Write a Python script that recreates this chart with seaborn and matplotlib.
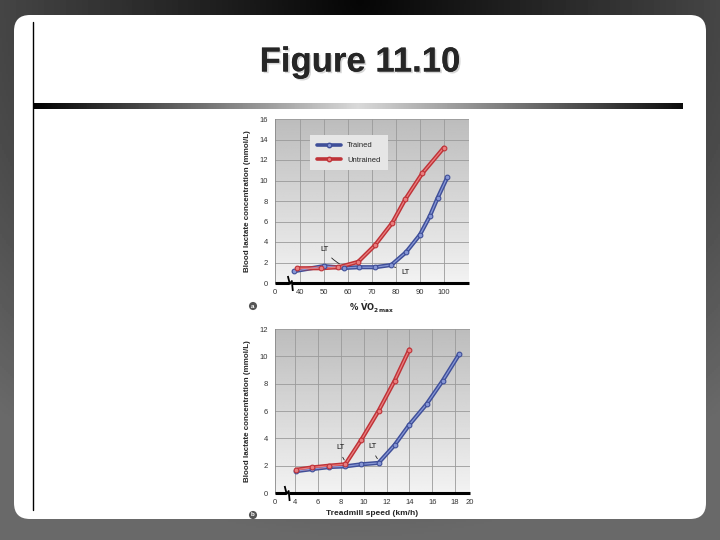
import numpy as np
import pandas as pd
import matplotlib
matplotlib.use("Agg")
import matplotlib.pyplot as plt
import matplotlib.patheffects as pe
from matplotlib.patches import FancyBboxPatch
from matplotlib.lines import Line2D
import seaborn as sns

# --- data ---
vo2_trained = [37.5, 50, 58.5, 64.7, 71.4, 78.2, 84.3, 90.1, 94.2, 97.5, 101.5]
lact_trained_a = [1.15, 1.65, 1.47, 1.54, 1.54, 1.76, 3.0, 4.7, 6.5, 8.3, 10.3]
vo2_untrained = [38.9, 48.8, 56.1, 64.3, 71.25, 78.6, 84, 91.1, 100.1]
lact_untrained_a = [1.44, 1.44, 1.54, 2.06, 3.66, 5.88, 8.17, 10.7, 13.2]

speed_trained = [4.1, 5.5, 7.0, 8.4, 9.8, 11.3, 12.7, 14.0, 15.5, 16.9, 18.35]
lact_trained_b = [1.6, 1.75, 1.9, 1.95, 2.1, 2.2, 3.5, 5.0, 6.5, 8.2, 10.15]
speed_untrained = [4.1, 5.5, 7.0, 8.4, 9.8, 11.3, 12.7, 14.0]
lact_untrained_b = [1.7, 1.87, 2.0, 2.1, 3.9, 6.0, 8.2, 10.5]

# broken axes: the "0" label sits left of the break
xticks_a = [29.6, 40, 50, 60, 70, 80, 90, 100]
xlabels_a = ["0", "40", "50", "60", "70", "80", "90", "100"]
xticks_b = [2.25, 4, 6, 8, 10, 12, 14, 16, 18, 19.3]
xlabels_b = ["0", "4", "6", "8", "10", "12", "14", "16", "18", "20"]

dfa = pd.DataFrame({
    "x": vo2_trained + vo2_untrained,
    "y": lact_trained_a + lact_untrained_a,
    "Group": ["Trained"] * len(vo2_trained) + ["Untrained"] * len(vo2_untrained),
})
dfb = pd.DataFrame({
    "x": speed_trained + speed_untrained,
    "y": lact_trained_b + lact_untrained_b,
    "Group": ["Trained"] * len(speed_trained) + ["Untrained"] * len(speed_untrained),
})

sns.set_theme(style="white")
plt.rcParams["font.family"] = ["Liberation Sans", "DejaVu Sans"]

dark = {"Trained": "#3f4f99", "Untrained": "#bf3338"}
light = {"Trained": "#8797d6", "Untrained": "#ea7f80"}

fig = plt.figure(figsize=(7.2, 5.4), dpi=100)

# --- slide background ---
bg = fig.add_axes([0, 0, 1, 1])
bg.set_xlim(0, 720)
bg.set_ylim(540, 0)
bg.axis("off")
gx, gy = np.meshgrid(np.linspace(-1, 1, 360), np.linspace(0, 1, 270))
r = np.clip(np.sqrt((gx * 0.9) ** 2 + (gy * 1.4) ** 2), 0, 1.4)
shade = 0.02 + 0.28 * r
bg.imshow(shade, cmap="gray", vmin=0, vmax=1, extent=(0, 720, 540, 0), aspect="auto", zorder=0)
bg.add_patch(FancyBboxPatch((14, 15), 692, 504, boxstyle="round,pad=0,rounding_size=16",
                            facecolor="white", edgecolor="none", zorder=1))
bg.plot([33, 33], [22, 510], color="black", lw=1, zorder=2)
bar = np.concatenate([np.linspace(0.0, 0.85, 200), np.linspace(0.85, 0.05, 200)])[None, :]
bg.imshow(bar, cmap="gray", vmin=0, vmax=1, extent=(33, 683, 109, 103), aspect="auto", zorder=2)
fig.text(0.5, 1 - 62 / 540, "Figure 11.10", ha="center", va="center", fontsize=25,
         fontweight="bold", family=["Liberation Sans", "DejaVu Sans"],
         path_effects=[pe.withSimplePatchShadow(offset=(1.2, -1.2), shadow_rgbFace="#bbbbbb", alpha=0.6),
                       pe.Normal()])


def panel(rect, df, xlim, ylim, yticks, xticks, xlabels, brk, xlabel, letter, letter_y):
    ax = fig.add_axes(rect)
    ax.set_xlim(*xlim)
    ax.set_ylim(*ylim)
    # lighter towards the bottom, darker towards the top
    grad = np.linspace(0.95, 0.74, 100)[:, None]
    ax.imshow(grad, cmap="gray", vmin=0, vmax=1, extent=(xlim[0], xlim[1], ylim[0], ylim[1]),
              aspect="auto", origin="lower", zorder=0)
    for t in yticks[1:]:
        ax.axhline(t, color="#9a9a9a", lw=0.6, zorder=1)
    for t in xticks[1:-1] if xticks[-1] >= xlim[1] - 0.01 else xticks[1:]:
        ax.axvline(t, color="#9a9a9a", lw=0.6, zorder=1)

    sns.lineplot(data=df, x="x", y="y", hue="Group", palette=dark, lw=3.0,
                 legend=False, ax=ax, zorder=3, sort=False)
    sns.lineplot(data=df, x="x", y="y", hue="Group", palette=light, lw=0.9,
                 legend=False, ax=ax, zorder=4, sort=False)
    for g, sub in df.groupby("Group"):
        ax.plot(sub["x"], sub["y"], ls="none", marker="o", ms=3.4, mfc=light[g],
                mec=dark[g], mew=0.8, zorder=5)

    for s in ax.spines.values():
        s.set_visible(False)
    ax.spines["left"].set_visible(True)
    ax.spines["left"].set_color("#888888")
    ax.spines["left"].set_linewidth(0.6)
    ax.set_yticks(yticks)
    ax.set_yticklabels([str(t) for t in yticks])
    ax.set_xticks(xticks)
    ax.set_xticklabels(xlabels)
    ax.tick_params(axis="y", length=3, width=0.5, color="#777777", labelsize=5.5,
                   labelcolor="#333333", pad=2)
    ax.tick_params(axis="x", length=0, labelsize=5.5, labelcolor="#333333", pad=4)
    ax.set_ylabel("Blood lactate concentration (mmol/L)", fontsize=5.8, fontweight="bold", labelpad=6)
    ax.set_xlabel(xlabel, fontsize=6, fontweight="bold", labelpad=3)
    ax.grid(False)

    # thick x-axis with a break
    w_px, h_px = rect[2] * 720, rect[3] * 540
    b = (brk - xlim[0]) / (xlim[1] - xlim[0])
    px, py = 1 / w_px, 1 / h_px
    kw = dict(transform=ax.transAxes, color="black", clip_on=False, zorder=6,
              solid_capstyle="butt")
    ax.plot([0, b - 1 * px], [0, 0], lw=2.2, **kw)
    ax.plot([b + 2 * px, 1], [0, 0], lw=2.2, **kw)
    ax.plot([b - 2 * px, b, b + 2 * px, b + 3 * px],
            [7 * py, -1 * py, 2 * py, -8 * py], lw=1.3, **kw)

    fig.text(rect[0] - 22 / 720, letter_y, letter, fontsize=4.5, color="white", fontweight="bold",
             ha="center", va="center",
             bbox=dict(boxstyle="circle,pad=0.25", facecolor="#555555", edgecolor="none"))
    return ax


ax1 = panel([275 / 720, 1 - 283 / 540, 194 / 720, 164 / 540], dfa, (29.6, 110.6), (0, 16),
            list(range(0, 17, 2)), xticks_a, xlabels_a, 35.8,
            r"$\mathbf{\%\ }\dot{\mathbf{V}}\mathbf{O}_{\mathbf{2\,max}}$", "a", 1 - 306 / 540)
ax2 = panel([275 / 720, 1 - 493 / 540, 195 / 720, 164 / 540], dfb, (2.25, 19.3), (0, 12),
            list(range(0, 13, 2)), xticks_b, xlabels_b, 3.27,
            "Treadmill speed (km/h)", "b", 1 - 515 / 540)

# LT annotations
ann = dict(arrowprops=dict(arrowstyle="-", lw=0.6, color="#222222", connectionstyle="arc3,rad=0.15"),
           fontsize=5.5, ha="center", va="center", color="#111111")
ax1.annotate("LT", xy=(57.5, 1.75), xytext=(50.4, 3.3), **ann)
ax1.annotate("LT", xy=(78.3, 1.6), xytext=(84.2, 1.0), **ann)
ax2.annotate("LT", xy=(8.45, 2.25), xytext=(7.95, 3.3), **ann)
ax2.annotate("LT", xy=(11.35, 2.35), xytext=(10.8, 3.4), **ann)

handles = [Line2D([0], [0], color=dark[g], lw=2.6, marker="o", ms=3.2, mfc=light[g], mec=dark[g])
           for g in ["Trained", "Untrained"]]
leg = ax1.legend(handles, ["Trained", "Untrained"], loc="upper left", bbox_to_anchor=(0.16, 0.925),
                 fontsize=5.5, frameon=True, facecolor="#e6e6e6", edgecolor="none", fancybox=False,
                 handlelength=3.2, borderpad=0.9, labelspacing=0.9, handletextpad=0.8)
leg.get_frame().set_alpha(1)

fig.savefig("out.png", dpi=100)
